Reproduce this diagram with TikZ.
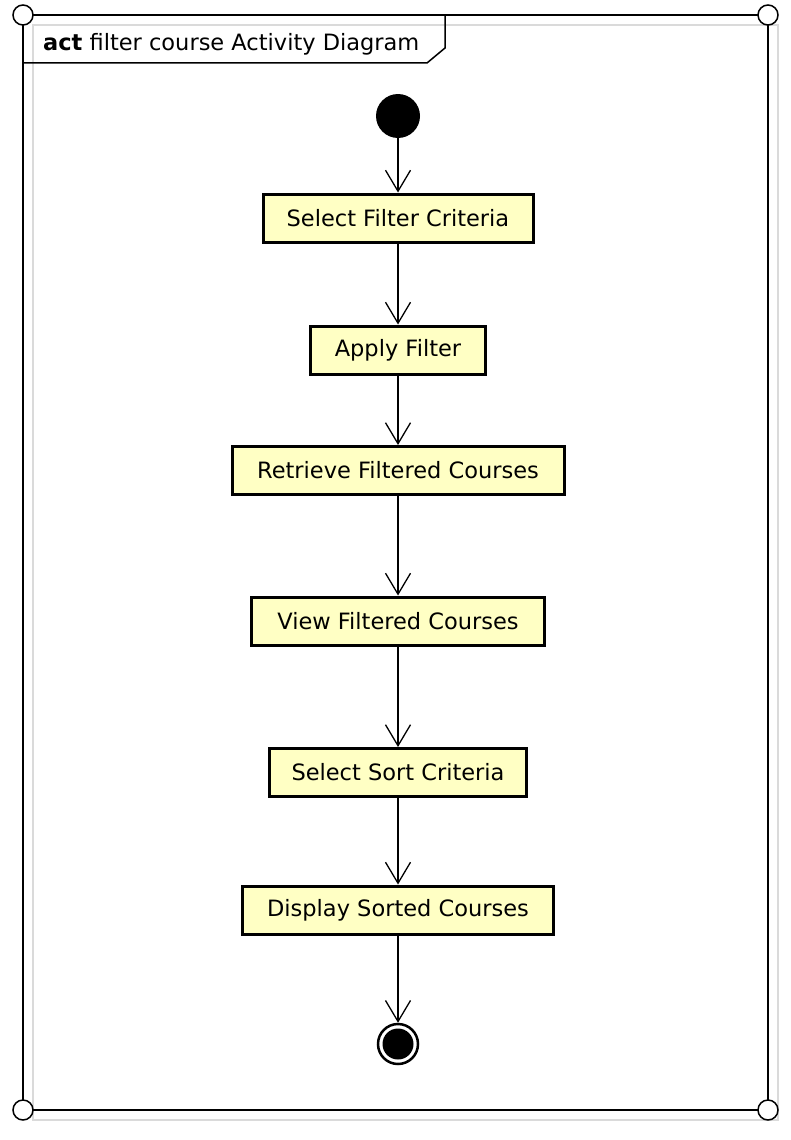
\documentclass[tikz,border=0pt]{standalone}
\usepackage{fontspec}
\setmainfont{DejaVu Sans}
\usetikzlibrary{arrows.meta}
\definecolor{actfill}{HTML}{FFFFC4}
\definecolor{shadowgray}{HTML}{DADADA}
\begin{document}
\begin{tikzpicture}[x=1pt,y=-1pt,
  act/.style={draw=black,line width=3pt,fill=actfill,minimum height=48pt,inner sep=0pt,
    font=\fontsize{22.5}{26}\selectfont},
  flow/.style={line width=1.3pt,-{Straight Barb[length=21pt,width=25pt,line width=1.3pt]}},
  corner/.style={circle,draw=black,line width=1.5pt,fill=white,minimum size=20pt,inner sep=0pt},
  frameline/.style={draw=black,line width=2pt},
  shadowline/.style={draw=shadowgray,line width=1.5pt}]
\useasboundingbox (0,0) rectangle (790,1140);
% frame
\draw[shadowline] (33,25) rectangle (778,1120);
\draw[frameline] (23,15) rectangle (768,1110);
\draw[draw=black,line width=1.5pt] (445,15) -- (445,48) -- (427,63) -- (23,63);
\node[anchor=base west,inner sep=0pt,font=\fontsize{22.5}{26}\selectfont] (title) at (43,51) {\textbf{act} filter course Activity Diagram};
\node[corner] (c1) at (23,15) {};
\node[corner] (c2) at (768,15) {};
\node[corner] (c3) at (23,1110) {};
\node[corner] (c4) at (768,1110) {};
% nodes
\node[circle,fill=black,minimum size=44pt,inner sep=0pt] (init) at (398,116) {};
\node[act,minimum width=270pt] (a1) at (398,218) {Select Filter Criteria};
\node[act,minimum width=175pt] (a2) at (398,350) {Apply Filter};
\node[act,minimum width=332pt] (a3) at (398,470.5) {Retrieve Filtered Courses};
\node[act,minimum width=293pt] (a4) at (398,621) {View Filtered Courses};
\node[act,minimum width=257pt] (a5) at (398,772.5) {Select Sort Criteria};
\node[act,minimum width=311pt] (a6) at (398,910) {Display Sorted Courses};
\node[circle,draw=black,line width=2.5pt,fill=white,minimum size=40pt,inner sep=0pt] (final) at (398,1044) {};
\node[circle,fill=black,minimum size=31pt,inner sep=0pt] (finaldot) at (398,1044) {};
% flows
\draw[flow] (init) -- (a1);
\draw[flow] (a1) -- (a2);
\draw[flow] (a2) -- (a3);
\draw[flow] (a3) -- (a4);
\draw[flow] (a4) -- (a5);
\draw[flow] (a5) -- (a6);
\draw[flow] (a6) -- (final);
\end{tikzpicture}
\end{document}
